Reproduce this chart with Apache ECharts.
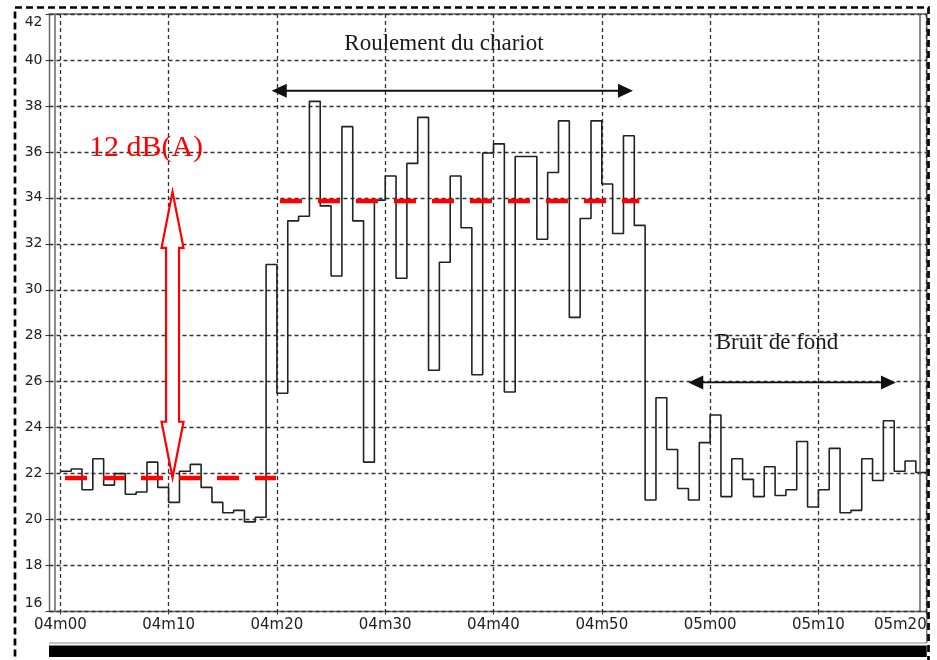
<!DOCTYPE html>
<html><head><meta charset="utf-8">
<script src="https://cdn.jsdelivr.net/npm/echarts@6/dist/echarts.min.js"></script>
<style>html,body{margin:0;padding:0;background:#fff}#c{width:937px;height:660px}</style>
</head><body><div id="c"></div>
<script>
// ---- data ----
const startSecond = 240; // 04m00, one reading per second
const levels = [
  22.1, 22.2, 21.3, 22.65, 21.5, 22.0, 21.1, 21.2, 22.5, 21.4,
  20.75, 22.1, 22.4, 21.4, 20.75, 20.3, 20.4, 19.9, 20.1, 31.1,
  25.5, 33.0, 33.2, 38.2, 33.65, 30.6, 37.1, 33.0, 22.5, 33.9,
  34.95, 30.5, 35.5, 37.5, 26.5, 31.2, 34.95, 32.7, 26.3, 35.95,
  36.35, 25.55, 35.8, 35.8, 32.2, 35.1, 37.35, 28.8, 33.1, 37.35,
  34.6, 32.45, 36.7, 32.8, 20.85, 25.3, 23.05, 21.35, 20.85, 23.35,
  24.55, 21.0, 22.65, 21.75, 21.0, 22.3, 21.05, 21.3, 23.4, 20.55,
  21.3, 23.1, 20.3, 20.4, 22.65, 21.7, 24.3, 22.1, 22.55, 22.05
];
const timeTicks = [240, 250, 260, 270, 280, 290, 300, 310, 320];
const timeTickLabels = ['04m00','04m10','04m20','04m30','04m40','04m50','05m00','05m10','05m20'];
const xRange = [239, 320];
const yRange = [16, 42];
const meanIdle = [240.43, 259.91, 21.82];      // from, to, level
const meanRolling = [260.28, 293.46, 33.88];
const rollingSpan = [259.52, 292.88, 38.66];
const backgroundSpan = [297.98, 317.16, 25.97];
const gapArrow = [250.36, 21.82, 34.26];        // at, from, to
const frameInner = [239.51, 319.38];

// ---- build ----
const stepData = levels.map((v, i) => [startSecond + i, v]);
stepData.push([startSecond + levels.length, levels[levels.length - 1]]);

const chart = echarts.init(document.getElementById('c'), null, {renderer: 'canvas'});

function blackArrow(api, span) {
  const p1 = api.coord([span[0], span[2]]);
  const p2 = api.coord([span[1], span[2]]);
  const hl = 15, hw = 7;
  const st = {fill: '#111'};
  return [
    {type: 'line', shape: {x1: p1[0] + hl - 1, y1: p1[1], x2: p2[0] - hl + 1, y2: p2[1]}, style: {stroke: '#111', lineWidth: 1.8}},
    {type: 'polygon', shape: {points: [[p1[0], p1[1]], [p1[0] + hl, p1[1] - hw], [p1[0] + hl, p1[1] + hw]]}, style: st},
    {type: 'polygon', shape: {points: [[p2[0], p2[1]], [p2[0] - hl, p2[1] - hw], [p2[0] - hl, p2[1] + hw]]}, style: st}
  ];
}

function hollowArrow(api, a) {
  const top = api.coord([a[0], a[2]]);
  const bot = api.coord([a[0], a[1]]);
  const cx = top[0], hl = 56, hw = 11, sw = 6.5;
  const t = top[1], b = bot[1];
  const pts = [
    [cx, t], [cx + hw, t + hl], [cx + sw, t + hl], [cx + sw, b - hl], [cx + hw, b - hl],
    [cx, b], [cx - hw, b - hl], [cx - sw, b - hl], [cx - sw, t + hl], [cx - hw, t + hl]
  ];
  return {type: 'polygon', shape: {points: pts}, style: {fill: '#fff', stroke: '#ff0000', lineWidth: 2.2}};
}

const redDash = {color: '#ff0000', width: 4.3, type: [22, 16]};
const frameStyle = {color: '#666', width: 1.5, type: 'solid'};

chart.setOption({
  animation: false,
  backgroundColor: '#fff',
  grid: {left: 49.5, right: 10.3, top: 14, bottom: 48.5, show: true, borderColor: '#666', borderWidth: 1.5, containLabel: false},
  xAxis: {
    type: 'value', min: xRange[0], max: xRange[1],
    axisLine: {show: false},
    axisTick: {show: true, length: 3, customValues: timeTicks, lineStyle: {color: '#333'}},
    axisLabel: {
      customValues: timeTicks,
      formatter: v => timeTickLabels[timeTicks.indexOf(v)] || '',
      fontFamily: 'DejaVu Sans', fontSize: 15, color: '#222', margin: 6,
      alignMaxLabel: 'right'
    },
    splitLine: {show: true, lineStyle: {type: [4, 3], color: '#333', width: 1.3}}
  },
  yAxis: {
    type: 'value', min: yRange[0], max: yRange[1], interval: 2,
    axisLine: {show: false},
    axisTick: {show: true, length: 4, lineStyle: {color: '#333'}},
    axisLabel: {
      fontFamily: 'DejaVu Sans', fontSize: 14, color: '#222', margin: 7,
      formatter: v => v === yRange[1] ? '{hi|' + v + '}' : (v === yRange[0] ? '{lo|' + v + '}' : String(v)),
      rich: {
        hi: {fontFamily: 'DejaVu Sans', fontSize: 14, color: '#222', padding: [16, 0, 0, 0]},
        lo: {fontFamily: 'DejaVu Sans', fontSize: 14, color: '#222', padding: [0, 0, 16, 0]}
      }
    },
    splitLine: {show: true, lineStyle: {type: [4, 3], color: '#333', width: 1.3}}
  },
  series: [
    {
      type: 'line', step: 'end', data: stepData, showSymbol: false, symbol: 'none',
      lineStyle: {color: '#222', width: 1.6}, z: 3,
      markLine: {
        silent: true, symbol: 'none', label: {show: false}, animation: false,
        data: [
          {xAxis: frameInner[0], lineStyle: frameStyle},
          {xAxis: frameInner[1], lineStyle: frameStyle},
          [{coord: [meanIdle[0], meanIdle[2]], lineStyle: redDash}, {coord: [meanIdle[1], meanIdle[2]]}],
          [{coord: [meanRolling[0], meanRolling[2]], lineStyle: redDash}, {coord: [meanRolling[1], meanRolling[2]]}]
        ]
      }
    },
    {
      type: 'custom', data: [[0, 0]], clip: false, z: 6, silent: true,
      renderItem: (params, api) => ({
        type: 'group',
        children: [].concat(blackArrow(api, rollingSpan), blackArrow(api, backgroundSpan), [hollowArrow(api, gapArrow)])
      })
    }
  ],
  graphic: [
    {type: 'rect', silent: true, z: 100, shape: {x: 15, y: 7.5, width: 913.5, height: 720}, style: {fill: 'none', stroke: '#000', lineWidth: 2.7, lineDash: [7, 4]}},
    {type: 'line', silent: true, shape: {x1: 49, y1: 643, x2: 926.7, y2: 643}, style: {stroke: '#888', lineWidth: 1.2}},
    {type: 'line', silent: true, shape: {x1: 926.7, y1: 611.5, x2: 926.7, y2: 643}, style: {stroke: '#777', lineWidth: 1.5}},
    {type: 'rect', silent: true, shape: {x: 49, y: 645.5, width: 877.7, height: 11.5}, style: {fill: '#000'}},
    {type: 'text', silent: true, z: 50, x: 146, y: 148, style: {text: '12 dB(A)', font: '30px "Liberation Serif"', fill: '#ff0000', align: 'center', verticalAlign: 'middle'}},
    {type: 'text', silent: true, z: 50, x: 444, y: 44, style: {text: 'Roulement du chariot', font: '23px "Liberation Serif"', fill: '#1a1a1a', align: 'center', verticalAlign: 'middle'}},
    {type: 'text', silent: true, z: 50, x: 777, y: 343, style: {text: 'Bruit de fond', font: '23px "Liberation Serif"', fill: '#1a1a1a', align: 'center', verticalAlign: 'middle'}}
  ]
});
</script>
</body></html>
